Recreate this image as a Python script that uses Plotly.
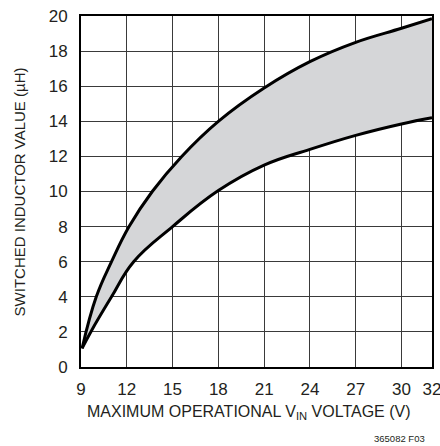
import plotly.graph_objects as go

# upper bound curve
upper_x = [9.07, 10, 11, 12.15, 13.67, 15.6, 18, 21, 24, 27, 30, 32]
upper_y = [1.06, 4, 6, 8, 10, 12, 14, 15.9, 17.4, 18.5, 19.3, 19.85]

# lower bound curve
lower_x = [9.07, 9.64, 11, 12.45, 15, 18, 21, 24, 27, 30, 32]
lower_y = [1.06, 2, 4, 6, 8, 10.05, 11.5, 12.4, 13.2, 13.85, 14.2]

x_ticks = [9, 12, 15, 18, 21, 24, 27, 30, 32]
y_ticks = [0, 2, 4, 6, 8, 10, 12, 14, 16, 18, 20]

FONT = "Liberation Sans, Arial, Helvetica, sans-serif"
INK = "#231f20"

fig = go.Figure()
fig.add_trace(go.Scatter(
    x=lower_x, y=lower_y, mode="lines",
    line=dict(color="black", width=3, shape="spline", smoothing=1.2),
    hoverinfo="skip"))
fig.add_trace(go.Scatter(
    x=upper_x, y=upper_y, mode="lines",
    line=dict(color="black", width=3, shape="spline", smoothing=1.2),
    fill="tonexty", fillcolor="#d5d6d8",
    hoverinfo="skip"))

fig.update_xaxes(
    range=[9, 32], tickvals=x_ticks,
    showgrid=True, gridcolor="#3a3a3a", gridwidth=1.2,
    showline=True, linecolor="black", linewidth=2, mirror=True,
    zeroline=False, ticks="", ticklabelstandoff=6, automargin=False,
    ticklabeloverflow="allow",
    tickfont=dict(size=17, color=INK, family=FONT),
)
fig.update_yaxes(
    range=[0, 20], tickvals=y_ticks,
    showgrid=True, gridcolor="#3a3a3a", gridwidth=1.2,
    showline=True, linecolor="black", linewidth=2, mirror=True,
    zeroline=False, ticks="", ticklabelstandoff=8, automargin=False,
    ticklabeloverflow="allow",
    tickfont=dict(size=17, color=INK, family=FONT),
)

# axis titles and figure code
fig.add_annotation(
    text="MAXIMUM OPERATIONAL V<sub>IN</sub> VOLTAGE (V)",
    xref="paper", yref="paper", x=0.48, y=-0.13,
    xanchor="center", yanchor="middle", showarrow=False,
    font=dict(size=16, color=INK, family=FONT))
fig.add_annotation(
    text="SWITCHED INDUCTOR VALUE (µH)", textangle=-90,
    xref="paper", yref="paper", x=-0.174, y=0.5,
    xanchor="center", yanchor="middle", showarrow=False,
    font=dict(size=15, color=INK, family=FONT))
fig.add_annotation(
    text="365082 F03", xref="paper", yref="paper", x=0.985, y=-0.203,
    xanchor="right", yanchor="middle", showarrow=False,
    font=dict(size=9.5, color=INK, family=FONT))

fig.update_layout(
    width=440, height=446,
    margin=dict(l=81, r=8, t=16, b=79),
    showlegend=False,
    plot_bgcolor="white", paper_bgcolor="white",
)
# drop the default 8px body margin so the figure fills the window exactly
fig.write_html("out.html", config={"displayModeBar": False},
               post_script="document.body.style.margin = '0';")
